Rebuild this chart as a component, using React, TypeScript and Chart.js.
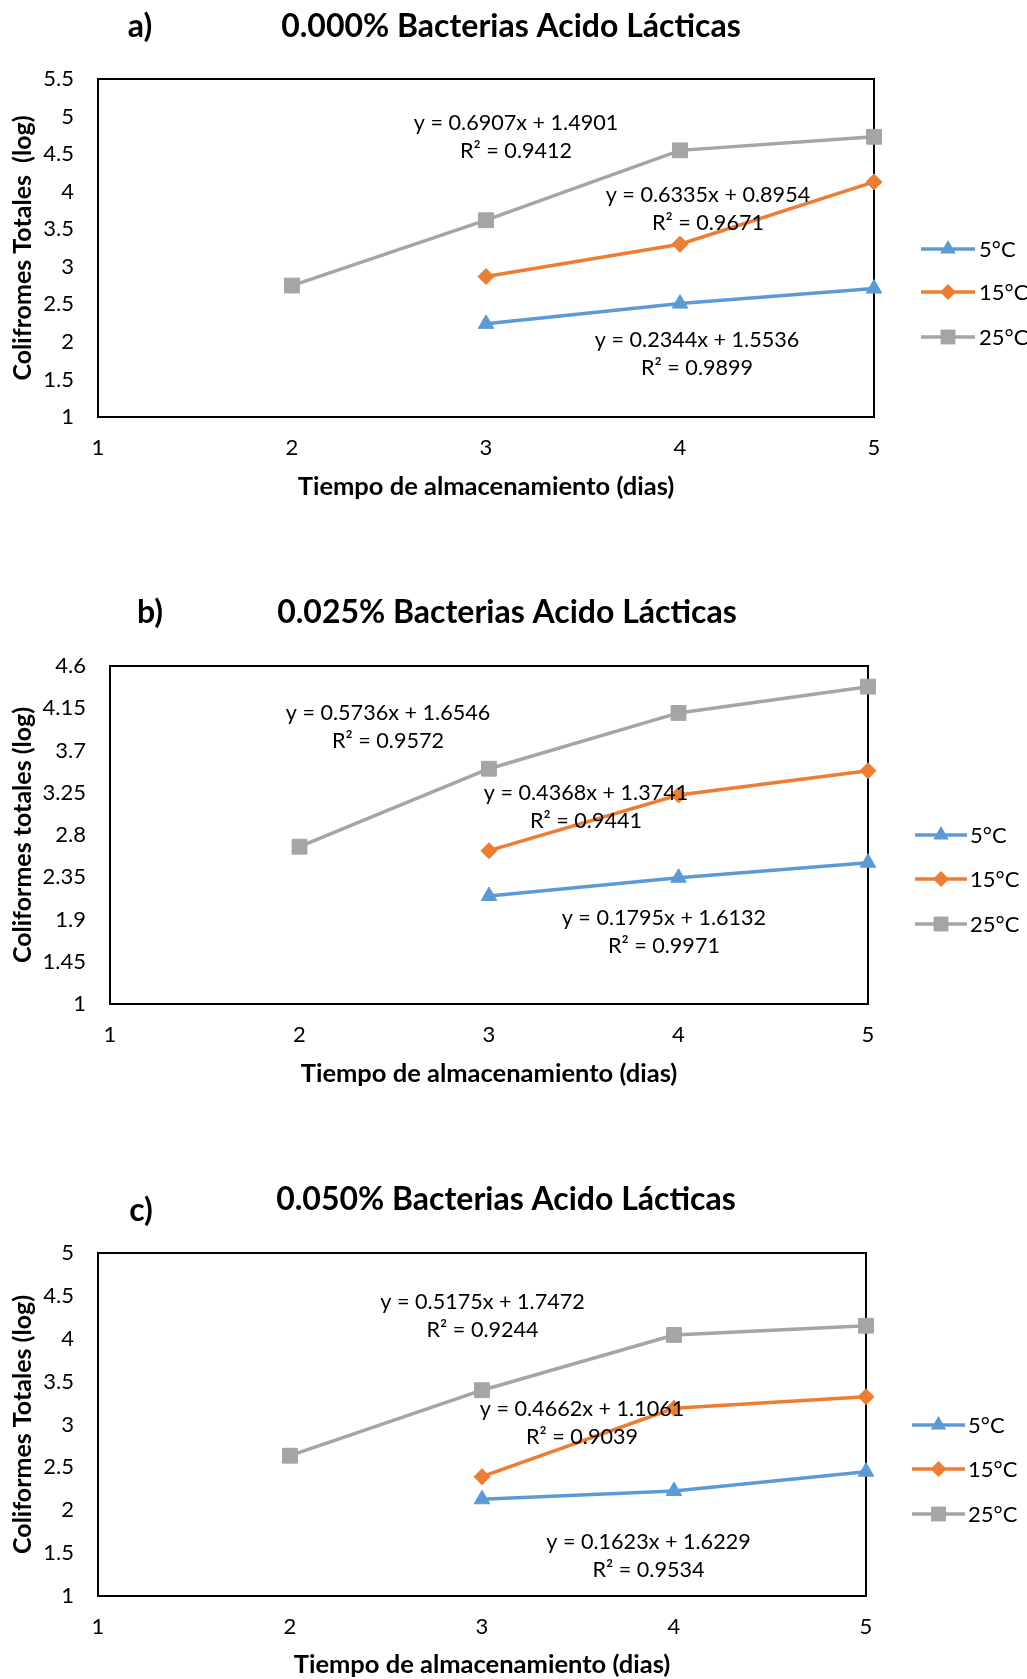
import React, { useEffect, useRef } from "react";
import { Chart, registerables } from "chart.js";

Chart.register(...registerables);

const FONT = 'Lato, "Open Sans", "DejaVu Sans", sans-serif';

// ---------- shared data ----------
const days = [2, 3, 4, 5];
const xTickValues = [1, 2, 3, 4, 5];
const seriesLabels = ["5°C", "15°C", "25°C"];
const xAxisTitle = "Tiempo de almacenamiento (dias)";

// ---------- a) 0.000% ----------
const panelLabelA = "a)";
const titleA = "0.000% Bacterias Acido Lácticas";
const yTitleA = "Colifromes Totales  (log)";
const a5C = [null, 2.24, 2.51, 2.71];
const a15C = [null, 2.87, 3.3, 4.13];
const a25C = [2.75, 3.62, 4.55, 4.73];
const yTicksA = [1, 1.5, 2, 2.5, 3, 3.5, 4, 4.5, 5, 5.5];
const eqA = ["y = 0.2344x + 1.5536", "y = 0.6335x + 0.8954", "y = 0.6907x + 1.4901"];
const r2A = ["R² = 0.9899", "R² = 0.9671", "R² = 0.9412"];

// ---------- b) 0.025% ----------
const panelLabelB = "b)";
const titleB = "0.025% Bacterias Acido Lácticas";
const yTitleB = "Coliformes totales (log)";
const b5C = [null, 2.15, 2.345, 2.505];
const b15C = [null, 2.633, 3.226, 3.485];
const b25C = [2.675, 3.506, 4.1, 4.38];
const yTicksB = [1, 1.45, 1.9, 2.35, 2.8, 3.25, 3.7, 4.15, 4.6];
const eqB = ["y = 0.1795x + 1.6132", "y = 0.4368x + 1.3741", "y = 0.5736x + 1.6546"];
const r2B = ["R² = 0.9971", "R² = 0.9441", "R² = 0.9572"];

// ---------- c) 0.050% ----------
const panelLabelC = "c)";
const titleC = "0.050% Bacterias Acido Lácticas";
const yTitleC = "Coliformes Totales (log)";
const c5C = [null, 2.128, 2.224, 2.45];
const c15C = [null, 2.391, 3.189, 3.324];
const c25C = [2.636, 3.4, 4.044, 4.152];
const yTicksC = [1, 1.5, 2, 2.5, 3, 3.5, 4, 4.5, 5];
const eqC = ["y = 0.1623x + 1.6229", "y = 0.4662x + 1.1061", "y = 0.5175x + 1.7472"];
const r2C = ["R² = 0.9534", "R² = 0.9039", "R² = 0.9244"];

// ---------- styles ----------
const COLORS = ["#5B9BD5", "#ED7D31", "#A5A5A5"];
const POINT_STYLES = ["triangle", "rectRot", "rect"];
const POINT_RADII = [9, 8, 10.5];
const LINE_W = 3.5;

type Panel = {
  top: number;
  height: number;
  plot: { left: number; top: number; right: number; bottom: number };
  label: string;
  title: string;
  yTitle: string;
  series: (number | null)[][];
  yTicks: number[];
  eq: string[];
  r2: string[];
  eqPos: number[][]; // data coords of centre of each 2-line block
  labelPos: number[];
  titlePos: number[];
  xTitleCenter: number;
  legend: { x1: number; x2: number; textX: number; ys: number[] };
};

const panels: Panel[] = [
  {
    top: 0,
    height: 587,
    plot: { left: 98, top: 79, right: 874, bottom: 417 },
    label: panelLabelA,
    title: titleA,
    yTitle: yTitleA,
    series: [a5C, a15C, a25C],
    yTicks: yTicksA,
    eq: eqA,
    r2: r2A,
    eqPos: [
      [4.088, 1.84],
      [4.144, 3.77],
      [3.155, 4.73],
    ],
    labelPos: [140, 27],
    titlePos: [511, 27],
    xTitleCenter: 487,
    legend: { x1: 921, x2: 975, textX: 979, ys: [249, 292, 337] },
  },
  {
    top: 587,
    height: 587,
    plot: { left: 110, top: 79, right: 868, bottom: 417 },
    label: panelLabelB,
    title: titleB,
    yTitle: yTitleB,
    series: [b5C, b15C, b25C],
    yTicks: yTicksB,
    eq: eqB,
    r2: r2B,
    eqPos: [
      [3.923, 1.77],
      [3.512, 3.093],
      [2.467, 3.951],
    ],
    labelPos: [150, 26],
    titlePos: [507, 26],
    xTitleCenter: 487,
    legend: { x1: 915, x2: 967, textX: 970, ys: [248, 292, 337] },
  },
  {
    top: 1174,
    height: 505,
    plot: { left: 98, top: 79, right: 866, bottom: 422 },
    label: panelLabelC,
    title: titleC,
    yTitle: yTitleC,
    series: [c5C, c15C, c25C],
    yTicks: yTicksC,
    eq: eqC,
    r2: r2C,
    eqPos: [
      [3.867, 1.461],
      [3.521, 3.014],
      [3.003, 4.267],
    ],
    labelPos: [141, 37],
    titlePos: [506, 26],
    xTitleCenter: 491,
    legend: { x1: 912, x2: 965, textX: 968, ys: [251, 295, 340] },
  },
];

function drawMarker(ctx: CanvasRenderingContext2D, style: string, x: number, y: number, r: number) {
  ctx.beginPath();
  if (style === "triangle") {
    ctx.moveTo(x, y - r);
    ctx.lineTo(x + 0.866 * r, y + 0.5 * r);
    ctx.lineTo(x - 0.866 * r, y + 0.5 * r);
  } else if (style === "rectRot") {
    ctx.moveTo(x - r, y);
    ctx.lineTo(x, y - r);
    ctx.lineTo(x + r, y);
    ctx.lineTo(x, y + r);
  } else {
    const s = Math.SQRT1_2 * r;
    ctx.rect(x - s, y - s, 2 * s, 2 * s);
  }
  ctx.closePath();
  ctx.fill();
}

function PanelChart({ p }: { p: Panel }) {
  const ref = useRef<HTMLCanvasElement | null>(null);

  useEffect(() => {
    const canvas = ref.current!;
    const W = 1027;
    const H = p.height;
    const xTitleSize = 25.5;
    const xTitleLH = xTitleSize * 1.2;
    const xTitlePadBottom = H - p.xTitleCenter - xTitleLH / 2;

    const framePlugin = {
      id: "frame",
      beforeDatasetsDraw(chart: any) {
        const { ctx, chartArea } = chart;
        ctx.save();
        ctx.strokeStyle = "#000";
        ctx.lineWidth = 2;
        ctx.strokeRect(chartArea.left, chartArea.top, chartArea.right - chartArea.left, chartArea.bottom - chartArea.top);
        ctx.restore();
      },
    };

    const annotationPlugin = {
      id: "eqs",
      afterDatasetsDraw(chart: any) {
        const { ctx } = chart;
        const xs = chart.scales.x;
        const ys = chart.scales.y;
        ctx.save();
        ctx.fillStyle = "#000";
        ctx.font = `21.6px ${FONT}`;
        ctx.textAlign = "center";
        ctx.textBaseline = "middle";
        p.eqPos.forEach((pos, i) => {
          const px = xs.getPixelForValue(pos[0]);
          const py = ys.getPixelForValue(pos[1]);
          ctx.fillText(p.eq[i], px, py - 14);
          ctx.fillText(p.r2[i], px, py + 14);
        });
        ctx.restore();
      },
    };

    const legendPlugin = {
      id: "sideLegend",
      afterDraw(chart: any) {
        const { ctx } = chart;
        const L = p.legend;
        ctx.save();
        seriesLabels.forEach((lab, i) => {
          const y = L.ys[i];
          ctx.strokeStyle = COLORS[i];
          ctx.lineWidth = LINE_W;
          ctx.beginPath();
          ctx.moveTo(L.x1, y);
          ctx.lineTo(L.x2, y);
          ctx.stroke();
          ctx.fillStyle = COLORS[i];
          drawMarker(ctx, POINT_STYLES[i], (L.x1 + L.x2) / 2, y, POINT_RADII[i]);
          ctx.fillStyle = "#000";
          ctx.font = `22px ${FONT}`;
          ctx.textAlign = "left";
          ctx.textBaseline = "middle";
          ctx.fillText(lab, L.textX, y + 1);
        });
        ctx.restore();
      },
    };

    const headerPlugin = {
      id: "header",
      afterDraw(chart: any) {
        const { ctx } = chart;
        ctx.save();
        ctx.fillStyle = "#000";
        ctx.font = `bold 32px ${FONT}`;
        ctx.textAlign = "center";
        ctx.textBaseline = "middle";
        ctx.fillText(p.label, p.labelPos[0], p.labelPos[1]);
        ctx.fillText(p.title, p.titlePos[0], p.titlePos[1]);
        ctx.restore();
      },
    };

    const chart = new Chart(canvas, {
      type: "line",
      data: {
        datasets: p.series.map((vals, i) => ({
          label: seriesLabels[i],
          data: days
            .map((d, j) => ({ x: d, y: vals[j] }))
            .filter((pt) => pt.y !== null) as any,
          borderColor: COLORS[i],
          backgroundColor: COLORS[i],
          pointBackgroundColor: COLORS[i],
          pointBorderColor: COLORS[i],
          pointBorderWidth: 1,
          pointStyle: POINT_STYLES[i] as any,
          pointRadius: POINT_RADII[i],
          borderWidth: LINE_W,
          tension: 0,
          clip: false as any,
        })),
      },
      options: {
        responsive: false,
        animation: false,
        devicePixelRatio: 1,
        font: { family: FONT } as any,
        layout: {
          padding: { top: p.plot.top, left: 0, right: W - p.plot.right, bottom: 0 },
        },
        plugins: {
          legend: { display: false },
          title: { display: false },
          tooltip: { enabled: false },
        },
        scales: {
          x: {
            type: "linear",
            min: 1,
            max: 5,
            afterBuildTicks: (s: any) => {
              s.ticks = xTickValues.map((v) => ({ value: v }));
            },
            afterFit: (s: any) => {
              s.height = H - p.plot.bottom;
            },
            grid: { display: false, drawTicks: false },
            border: { display: false },
            ticks: {
              padding: 18,
              autoSkip: false,
              maxRotation: 0,
              color: "#000",
              font: { family: FONT, size: 22 },
              callback: (v: any) => String(v),
            },
            title: {
              display: true,
              text: xAxisTitle,
              color: "#000",
              font: { family: FONT, size: xTitleSize, weight: "bold" },
              padding: { top: 0, bottom: xTitlePadBottom },
            },
          },
          y: {
            type: "linear",
            min: p.yTicks[0],
            max: p.yTicks[p.yTicks.length - 1],
            afterBuildTicks: (s: any) => {
              s.ticks = p.yTicks.map((v) => ({ value: v }));
            },
            afterFit: (s: any) => {
              s.width = p.plot.left;
            },
            grid: { display: false, drawTicks: false },
            border: { display: false },
            ticks: {
              padding: 24,
              autoSkip: false,
              color: "#000",
              font: { family: FONT, size: 22 },
              callback: (v: any) => String(v),
            },
            title: {
              display: true,
              text: p.yTitle,
              color: "#000",
              font: { family: FONT, size: 25, weight: "bold" },
              padding: { top: 8, bottom: 0 },
            },
          },
        },
      },
      plugins: [framePlugin, annotationPlugin, legendPlugin, headerPlugin],
    });

    return () => chart.destroy();
  }, [p]);

  return (
    <canvas
      ref={ref}
      width={1027}
      height={p.height}
      style={{ position: "absolute", left: 0, top: p.top, width: 1027, height: p.height, display: "block" }}
    />
  );
}

export default function App() {
  return (
    <div style={{ position: "absolute", left: 0, top: 0, width: 1027, height: 1679, background: "#fff" }}>
      {panels.map((p, i) => (
        <PanelChart key={i} p={p} />
      ))}
    </div>
  );
}
